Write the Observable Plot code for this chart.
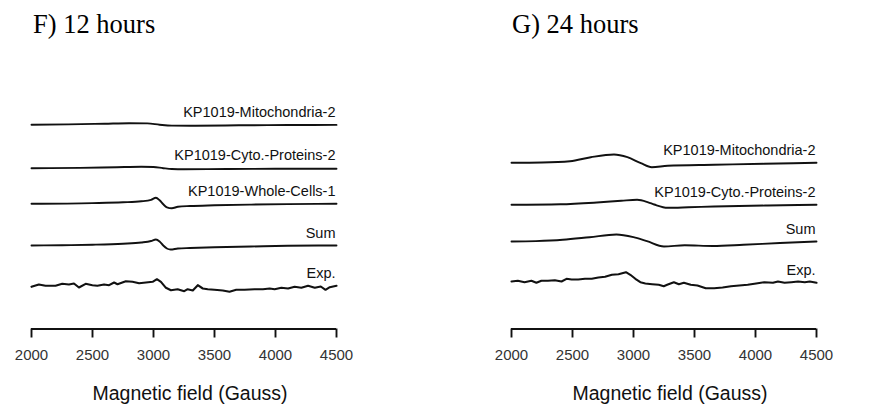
<!DOCTYPE html>
<html><head><meta charset="utf-8">
<script src="https://cdn.jsdelivr.net/npm/d3@7"></script>
<script src="https://cdn.jsdelivr.net/npm/@observablehq/plot@0.6"></script>
<style>
body{margin:0;background:#fff;}
#wrap{position:relative;width:881px;height:405px;overflow:hidden;background:#fff;}
.ttl{position:absolute;font-family:"Liberation Serif","Times New Roman",serif;font-size:26.5px;line-height:1;color:#000;white-space:nowrap;top:11px;}
.pnl{position:absolute;top:45px;}
</style></head><body>
<div id="wrap">
<div class="ttl" style="left:33px">F) 12 hours</div>
<div class="ttl" style="left:512px">G) 24 hours</div>
<div class="pnl" id="p12" style="left:0"></div>
<div class="pnl" id="p24" style="left:440px"></div>
</div>
<script>
// ---------- shared axis ----------
const xDomain = [2000, 4500];
const xTicks = [2000, 2500, 3000, 3500, 4000, 4500];
const xLabel = "Magnetic field (Gauss)";

// ---------- F) 12 hours ----------
const labels12 = ["KP1019-Mitochondria-2", "KP1019-Cyto.-Proteins-2", "KP1019-Whole-Cells-1", "Sum", "Exp."];
const offsets12 = [160.8, 117.3, 81.7, 40, 0];

const field12Mito = [2000, 2300, 2600, 2800, 2950, 3050, 3150, 3300, 3700, 4100, 4500];
const int12Mito   = [0, 0.3, 1, 1.5, 1.3, 0, -0.9, -1, -0.6, -0.3, -0.2];

const field12Cyto = [2000, 2400, 2700, 2900, 3000, 3080, 3150, 3250, 3600, 4000, 4500];
const int12Cyto   = [0, 0.3, 1, 1.4, 1.2, 0, -0.8, -1, -0.8, -0.6, -0.5];

const field12Whole = [2000, 2500, 2750, 2900, 2980, 3020, 3050, 3080, 3110, 3150, 3200, 3300, 3500, 3800, 4100, 4500];
const int12Whole   = [0, 0.7, 1.5, 2.5, 4, 6, 3.5, -0.5, -3.5, -4.4, -3, -2.2, -1.5, -0.8, -0.3, 0];

const field12Sum = [2000, 2250, 2500, 2750, 2900, 2980, 3020, 3050, 3080, 3110, 3140, 3200, 3300, 3500, 3800, 4100, 4500];
const int12Sum   = [0, 0.3, 0.8, 1.8, 3, 4.5, 6, 4, 0, -3, -4, -3, -2.5, -1.7, -1, -0.3, 0];

const field12Exp = [2000, 2060, 2115, 2197, 2252, 2307, 2348, 2389, 2444, 2499, 2540, 2595, 2636, 2677, 2705, 2773, 2828, 2882, 2938, 2993, 3028, 3061, 3102, 3143, 3198, 3252, 3280, 3322, 3363, 3404, 3445, 3499, 3568, 3623, 3678, 3746, 3828, 3897, 3952, 3993, 4048, 4103, 4157, 4212, 4267, 4322, 4371, 4410, 4445, 4500];
const int12Exp   = [-1.3, 1, -0.3, -0.3, 1.7, 1, 2, -2, 1.7, 0.3, -0.3, 1, 0.3, 3, 1.3, 4.3, 3.7, 2.3, 3, 3.7, 6.3, 3.7, -2.3, -4.7, -3.7, -5.7, -3.7, -5, 0.3, -3, -3.7, -4.3, -5, -6.3, -4.3, -4.3, -3.7, -3.7, -3, -3.7, -2.3, -3, -1.3, -2.3, -0.3, -2.3, -1, -4.3, -1.7, -0.3];

// ---------- G) 24 hours ----------
const labels24 = ["KP1019-Mitochondria-2", "KP1019-Cyto.-Proteins-2", "Sum", "Exp."];
const offsets24 = [119.7, 77.7, 41, 0];

const field24Mito = [2000, 2250, 2480, 2650, 2840, 2950, 3060, 3150, 3280, 3660, 4070, 4500];
const int24Mito   = [0, 0.3, 1.6, 5.6, 8.3, 5.6, -0.4, -4.4, -3, -2, -1, 0];

const field24Cyto = [2000, 2400, 2700, 2900, 3030, 3120, 3170, 3280, 3450, 3660, 4100, 4500];
const int24Cyto   = [0, 0.5, 2.3, 4, 5, 2.5, 0.3, -3, -2.5, -1.7, -0.7, 0];

const field24Sum = [2000, 2200, 2420, 2640, 2860, 3000, 3110, 3250, 3420, 3650, 3900, 4200, 4500];
const int24Sum   = [0, 0.4, 1.7, 4.3, 7, 4.3, 0.3, -5, -3.8, -4.5, -3.3, -1.5, 0];

const field24Exp = [2000, 2052, 2107, 2163, 2204, 2245, 2299, 2355, 2410, 2451, 2493, 2547, 2602, 2658, 2712, 2767, 2823, 2877, 2938, 2974, 3015, 3056, 3097, 3153, 3207, 3248, 3276, 3331, 3372, 3413, 3469, 3524, 3592, 3661, 3730, 3799, 3867, 3936, 4005, 4073, 4143, 4184, 4238, 4294, 4349, 4404, 4445, 4500];
const int24Exp   = [1, 1.7, 0.3, 1.7, -0.3, 1.7, 1.7, 2.3, 1, 3.7, 3, 3, 3.7, 3.7, 5, 5.7, 7.7, 8.3, 10.3, 7.7, 3.7, 0.3, -1, -1.7, -2.3, -3.7, -2.3, 0.3, -1.7, -0.3, -2.3, -3, -5.7, -5.7, -5, -3.7, -3, -2.3, -1, 0.3, -0.3, 1, -0.3, 0.3, 1, 0.3, 1, -0.3];

// ---------- drawing ----------
function panel({labels, offsets, fields, ints, width, marginLeft, marginRight, yDomain}) {
  const rows = [];
  labels.forEach((s, i) => fields[i].forEach((f, j) =>
    rows.push({series: s, exp: s === "Exp.", field: f, value: offsets[i] + ints[i][j]})));
  const labelRows = labels.map((s, i) => ({series: s, field: xDomain[1], value: offsets[i]}));
  return Plot.plot({
    width, height: 360, marginLeft, marginRight, marginTop: 40, marginBottom: 76.5,
    style: {fontFamily: "'Liberation Sans', Arial, sans-serif", background: "#fff", color: "#000", overflow: "visible"},
    x: {domain: xDomain},
    y: {domain: yDomain, axis: null},
    marks: [
      Plot.ruleY([yDomain[0]], {stroke: "#111", strokeWidth: 1.9}),
      Plot.axisX({ticks: xTicks, tickSize: 9, tickPadding: 11.5, tickFormat: "d", fontSize: 15, label: null, stroke: "#111", strokeWidth: 1.9, fill: "#333"}),
      Plot.line(rows.filter(d => !d.exp), {x: "field", y: "value", z: "series", curve: "monotone-x", stroke: "#111", strokeWidth: 1.9}),
      Plot.line(rows.filter(d => d.exp), {x: "field", y: "value", z: "series", curve: "linear", stroke: "#111", strokeWidth: 2.1}),
      Plot.text(labelRows, {x: "field", y: "value", text: "series", textAnchor: "end", lineAnchor: "bottom", dy: -8, dx: -1, fontSize: 14.5, fill: "#111"}),
      Plot.text([xLabel], {frameAnchor: "bottom", lineAnchor: "bottom", dy: 71, dx: 6, fontSize: 19.5, fill: "#111", text: d => d})
    ]
  });
}

document.getElementById("p12").append(panel({
  labels: labels12, offsets: offsets12,
  fields: [field12Mito, field12Cyto, field12Whole, field12Sum, field12Exp],
  ints: [int12Mito, int12Cyto, int12Whole, int12Sum, int12Exp],
  width: 440, marginLeft: 31, marginRight: 104, yDomain: [-43.5, 200]
}));
document.getElementById("p24").append(panel({
  labels: labels24, offsets: offsets24,
  fields: [field24Mito, field24Cyto, field24Sum, field24Exp],
  ints: [int24Mito, int24Cyto, int24Sum, int24Exp],
  width: 441, marginLeft: 71, marginRight: 65, yDomain: [-46.5, 197]
}));
</script>
</body></html>
